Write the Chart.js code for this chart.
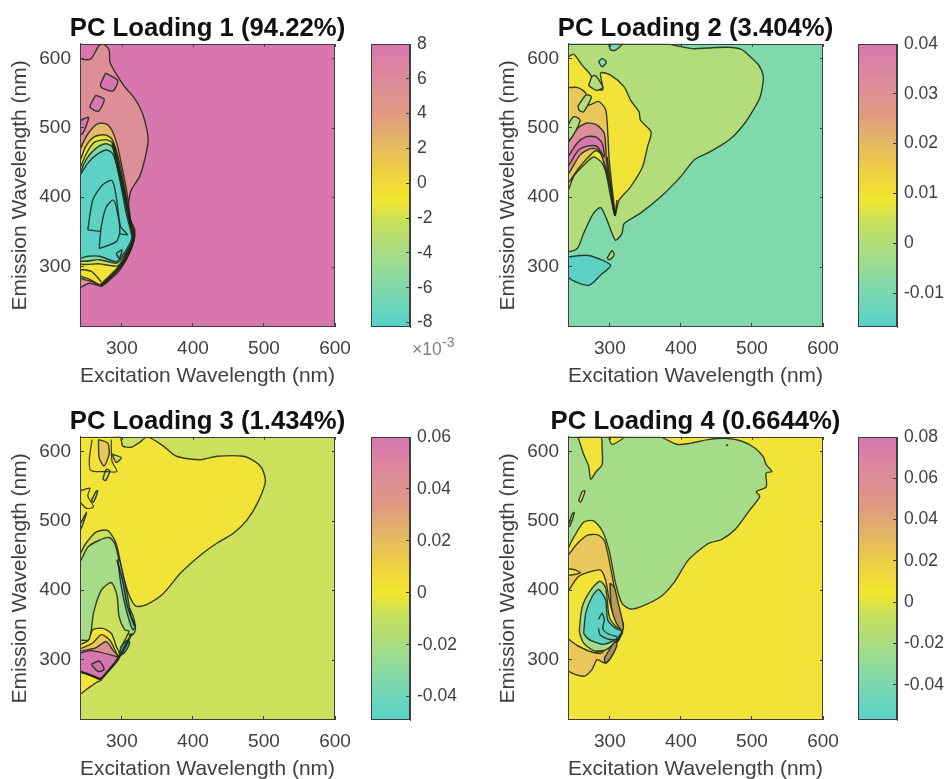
<!DOCTYPE html>
<html>
<head>
<meta charset="utf-8">
<title>PC Loadings</title>
<script src="https://cdn.jsdelivr.net/npm/chart.js@4"></script>
<style>
  html, body { margin: 0; padding: 0; background: #fff; width: 948px; height: 779px; overflow: hidden; }
  canvas { position: absolute; }
</style>
</head>
<body>
<script>
// axis ranges and ticks, nm
const xRange = [241, 600];
const yRange = [213, 621];
const xTicks = [300, 400, 500, 600];
const yTicks = [300, 400, 500, 600];
const fullBox = [[241, 213], [600, 213], [600, 621], [241, 621]];

// colour bars
const cbarRanges = [[-8.25, 8], [-0.0168, 0.04], [-0.049, 0.06], [-0.057, 0.08]];
const cbarTicks = [
  [8, 6, 4, 2, 0, -2, -4, -6, -8],
  [0.04, 0.03, 0.02, 0.01, 0, -0.01],
  [0.06, 0.04, 0.02, 0, -0.02, -0.04],
  [0.08, 0.06, 0.04, 0.02, 0, -0.02, -0.04]
];
const titles = ['PC Loading 1 (94.22%)', 'PC Loading 2 (3.404%)', 'PC Loading 3 (1.434%)', 'PC Loading 4 (0.6644%)'];

// colour map, top of the bar to the bottom
const mapStops = [0, 0.13, 0.25, 0.33, 0.45, 0.55, 0.63, 0.75, 0.87, 1];
const mapColors = ['#d877ae', '#de8b9a', '#e09a80', '#e2b268', '#eed042', '#f2e62e', '#c8e05c', '#a4dc88', '#7cd8ae', '#56d2c8'];

const PINK = '#d877ae', SALMON = '#dd8e96', ORANGE = '#e6b86a', AMBER = '#e9c75a', YELLOW = '#f1e338',
  LIME = '#cce05e', LEAF = '#b2dd7a', GREEN = '#a6dc88', MINT = '#80d9ad', TEAL = '#5cd2c4';
const INK = 'rgba(25,35,25,0.85)';

// panel 1 contours
const p1Salmon = [[240,600],[250,598],[257,600],[264,612],[268,619],[275,620],[282,612],[283,595],[290,581],[304,559],[316,545],[325,530],[332,511],[337,482],[332,454],[325,430],[313,410],[310,396],[308,377],[318,353],[316,338],[308,314],[297,295],[283,281],[271,272],[254,276],[240,271]];
const p1HoleA = [[277,579],[294,568],[287,553],[270,560]];
const p1HoleB = [[263,547],[275,541],[267,524],[255,530]];
const p1HoleC = [[242,511],[253,515],[245,492],[240,490]];
const p1Orange = [[240,466],[247,482],[254,494],[266,506],[279,505],[287,494],[294,473],[301,439],[308,401],[313,362],[318,348],[316,334],[308,314],[297,298],[283,283],[271,272],[259,278],[240,286]];
const p1Yellow = [[240,449],[249,473],[261,487],[275,490],[285,485],[292,468],[299,439],[306,401],[312,367],[317,348],[315,334],[306,312],[294,296],[280,281],[270,274],[254,282],[240,289]];
const p1Lime = [[240,439],[250,463],[261,479],[277,483],[286,479],[292,463],[300,425],[308,386],[313,353],[316,343],[312,331],[304,314],[294,301],[268,304],[240,306]];
const p1Mint = [[240,432],[250,455],[263,470],[277,477],[286,473],[292,458],[300,420],[307,382],[313,353],[315,343],[312,331],[302,314],[293,305],[268,310],[240,310]];
const p1Teal = [[240,430],[252,449],[264,461],[278,468],[286,464],[292,449],[299,415],[306,377],[312,353],[314,342],[310,331],[300,315],[292,307],[268,315],[252,315],[240,313]];
const p1InnerA = [[252,353],[259,396],[273,418],[286,424],[292,401],[298,358],[308,346],[299,347]];
const p1InnerB = [[268,326],[271,358],[278,386],[288,396],[294,377],[297,350],[292,336]];
const p1InnerC = [[292,319],[300,324],[296,312]];
const p1Low = [[240,296],[257,293],[271,278]];
const p1Edge = [[287,478],[292,454],[300,420],[308,382],[313,358],[317,346],[314,331],[305,312],[293,296],[279,282],[270,273]];

// panel 2 contours
const p2Green = [[241,621],[379,621],[400,617],[419,614],[438,615],[466,616],[485,613],[497,603],[509,591],[516,574],[514,555],[511,543],[502,526],[490,507],[473,487],[457,475],[438,464],[419,454],[400,430],[372,401],[343,377],[320,362],[317,348],[308,338],[301,353],[296,367],[287,385],[277,377],[263,348],[254,326],[241,323]];
const p2TopBit = [[298,622],[301,612],[308,612],[318,622]];
const p2Oval = [[284,595],[289,600],[295,595],[289,588]];
const p2Low = [[241,314],[270,316],[301,302],[287,288],[270,273],[241,285]];
const p2Seed = [[296,312],[303,323],[306,317],[300,310]];
const p2Yellow = [[241,602],[249,606],[261,590],[273,576],[281,557],[290,555],[287,579],[301,576],[320,559],[329,540],[341,523],[343,511],[358,494],[353,473],[346,444],[329,415],[313,396],[307,374],[299,420],[289,449],[277,458],[263,446],[249,430],[241,411]];
const p2Orange = [[241,558],[255,558],[266,550],[270,533],[284,538],[294,526],[297,492],[299,454],[303,415],[307,374],[301,401],[294,439],[289,461],[280,467],[268,456],[254,439],[241,422]];
const p2Salmon = [[241,478],[254,499],[268,507],[282,504],[292,492],[294,473],[296,444],[303,401],[307,377],[300,415],[292,449],[284,468],[273,470],[258,461],[241,434]];
const p2Pink = [[241,458],[254,478],[266,487],[280,487],[289,478],[292,458],[282,473],[270,474],[256,468],[241,445]];
const p2HoleA = [[270,561],[275,574],[280,575],[290,558],[281,554],[274,558]];
const p2HoleB = [[255,531],[266,547],[274,545],[263,523],[257,525]];
const p2HoleC = [[241,504],[249,516],[258,511],[247,487],[241,482]];
const p2Edge = [[296,458],[303,401],[307,374],[310,396]];

// panel 3 contours
const p3Yellow = [[240,450],[240,621],[297,621],[301,608],[313,606],[325,613],[336,621],[358,608],[377,593],[410,588],[434,593],[471,593],[488,585],[497,576],[502,557],[492,528],[476,501],[457,482],[434,468],[410,450],[382,424],[358,395],[334,379],[320,377],[311,391],[301,424],[292,467],[280,486],[264,484],[249,467]];
const p3OrangeOval = [[267,617],[280,612],[282,596],[275,579],[268,591]];
const p3Ring = [[258,617],[254,586],[257,572],[278,571],[293,571],[286,586],[285,617]];
const p3BitA = [[286,596],[299,591],[292,584]];
const p3BitB = [[273,560],[278,574],[283,572],[277,558]];
const p3BitC = [[257,529],[264,543],[266,543],[260,527]];
const p3BitD = [[240,493],[250,512],[250,510],[242,488]];
const p3Jag = [[241,543],[255,547],[252,536],[260,520],[250,518],[242,526]];
const p3Green = [[240,438],[252,462],[268,472],[282,476],[290,467],[297,438],[308,381],[316,362],[319,343],[314,335],[300,340],[240,328]];
const p3Pocket = [[240,328],[254,329],[260,367],[271,400],[285,411],[293,393],[296,362],[304,343],[310,341],[302,324],[296,305],[268,286],[240,283]];
const p3Bump = [[240,321],[253,328],[259,343],[273,345],[285,338],[292,319],[297,305],[268,286],[240,283]];
const p3Orange = [[240,315],[259,324],[271,336],[283,328],[292,310],[294,303],[268,284],[240,283]];
const p3Salmon = [[240,312],[263,317],[278,326],[287,314],[294,304],[268,280],[240,283]];
const p3Pink = [[240,309],[257,313],[287,306],[296,302],[285,288],[268,272],[240,285]];
const p3PinkCore = [[257,293],[268,298],[275,286],[266,283]];
const p3Corner = [[240,283],[271,271],[264,267],[250,257],[240,250]];
const p3Streak = [[294,444],[297,443],[308,391],[313,362],[319,348],[315,343],[306,372],[299,406]];
const p3Dark = [[296,305],[299,319],[308,328],[311,324],[304,310]];
const p3EdgeA = [[293,444],[301,414],[308,376],[318,348]];
const p3EdgeB = [[314,338],[302,314],[290,295],[271,272]];
const p3EdgeC = [[240,283],[255,278],[271,271]];

// panel 4 contours
const p4Green = [[241,460],[241,621],[369,621],[395,610],[414,612],[438,617],[462,619],[485,615],[504,605],[516,592],[520,581],[528,571],[520,569],[520,549],[506,542],[511,535],[495,513],[476,487],[457,473],[438,467],[410,443],[391,412],[372,391],[343,376],[329,373],[317,381],[308,410],[299,457],[289,486],[277,500],[263,498],[249,476]];
const p4IslandA = [[255,621],[263,596],[270,579],[273,560],[280,570],[289,581],[289,605],[287,621]];
const p4IslandB = [[298,621],[303,610],[320,621]];
const p4HoleA = [[256,529],[261,542],[265,543],[259,527]];
const p4HoleB = [[241,491],[247,510],[250,512],[244,493]];
const p4Dot = [[464,608],[466,610]];
const p4Orange = [[241,450],[254,467],[268,479],[282,480],[292,472],[299,443],[306,405],[313,367],[319,350],[316,338],[310,325],[241,330]];
const p4Nick = [[241,431],[252,429],[258,425],[241,422]];
const p4Inner = [[241,398],[255,419],[270,426],[287,429],[294,414],[299,386],[306,362],[313,348],[318,340],[310,326],[294,315],[277,310],[256,319],[241,330]];
const p4Low = [[241,330],[256,319],[277,310],[289,310],[301,324],[308,324],[303,307],[294,295],[282,300],[275,286],[263,276],[241,285]];
const p4Leaf = [[257,343],[261,376],[273,400],[286,413],[294,403],[299,362],[308,348],[317,342],[310,328],[294,314],[277,313],[263,324],[258,336]];
const p4Teal = [[263,338],[266,367],[275,391],[284,401],[294,386],[297,357],[308,345],[317,341],[308,329],[291,322],[277,326],[268,331]];
const p4InnerA = [[284,358],[289,367],[292,357],[290,345],[296,338],[310,333]];
const p4InnerB = [[284,345],[286,336],[300,329],[310,329]];
const p4StreakA = [[300,410],[306,405],[313,376],[319,348],[317,341],[308,355],[302,376]];
const p4StreakB = [[292,302],[307,326],[310,321],[301,302],[294,295]];

// drawing order per panel, background first
const panelLayers = [
  [
    [fullBox, PINK, 0], [p1Salmon, SALMON], [p1HoleA, PINK], [p1HoleB, PINK], [p1HoleC, PINK],
    [p1Orange, ORANGE], [p1Yellow, YELLOW], [p1Lime, LIME], [p1Mint, MINT], [p1Teal, TEAL],
    [p1InnerA, TEAL], [p1InnerB, TEAL], [p1InnerC, TEAL]
  ],
  [
    [fullBox, MINT, 0], [p2Green, LEAF], [p2TopBit, MINT], [p2Oval, MINT], [p2Low, TEAL], [p2Seed, LEAF],
    [p2Yellow, YELLOW], [p2Orange, AMBER], [p2Salmon, SALMON], [p2Pink, PINK],
    [p2HoleA, LEAF], [p2HoleB, LEAF], [p2HoleC, LEAF]
  ],
  [
    [fullBox, LIME, 0], [p3Yellow, YELLOW], [p3OrangeOval, AMBER], [p3BitA, LIME], [p3BitB, LIME], [p3BitC, LIME], [p3BitD, LIME],
    [p3Green, GREEN], [p3Pocket, LIME], [p3Bump, YELLOW], [p3Orange, AMBER], [p3Salmon, SALMON], [p3Pink, PINK],
    [p3PinkCore, '#cf6fb0'], [p3Corner, YELLOW], [p3Streak, '#6fbe9c'], [p3Dark, '#4f9a88']
  ],
  [
    [fullBox, YELLOW, 0], [p4Green, GREEN], [p4IslandA, YELLOW], [p4IslandB, YELLOW], [p4HoleA, YELLOW], [p4HoleB, YELLOW],
    [p4Orange, AMBER], [p4Nick, YELLOW], [p4Inner, YELLOW], [p4Low, AMBER], [p4Leaf, GREEN], [p4Teal, TEAL],
    [p4StreakA, '#b89a5c'], [p4StreakB, '#a88a70']
  ]
];
// open contour lines drawn over the fills
const panelLines = [
  [[p1Low, 1.4], [p1Edge, 2.8]],
  [[p2Edge, 1.6]],
  [[p3Ring, 1.2], [p3Jag, 1.2], [p3EdgeA, 1.6], [p3EdgeB, 2.4], [p3EdgeC, 2.4]],
  [[p4InnerA, 1.4], [p4InnerB, 1.4], [p4Dot, 1.8]]
];

const AXIS_COLOR = '#3e3e3e';
const TEXT_COLOR = '#404040';
const FONT = '"Liberation Sans", Arial, sans-serif';
const CURVE = 0.25;
const CONTOUR_WIDTH = 1.4;

// box round the plot, with mirrored ticks on the far sides
const framePlugin = {
  id: 'frame',
  afterDatasetsDraw(chart) {
    const { ctx, chartArea: a, scales } = chart;
    ctx.save();
    ctx.strokeStyle = AXIS_COLOR;
    ctx.lineWidth = 1;
    ctx.strokeRect(Math.round(a.left) + 0.5, Math.round(a.top) + 0.5, Math.round(a.right - a.left) - 1, Math.round(a.bottom - a.top) - 1);
    if (scales.x && scales.x.options.display) {
      ctx.beginPath();
      scales.x.ticks.forEach(t => {
        const px = Math.round(scales.x.getPixelForValue(t.value)) + 0.5;
        ctx.moveTo(px, a.top);
        ctx.lineTo(px, a.top + 3);
      });
      scales.y.ticks.forEach(t => {
        const py = Math.round(scales.y.getPixelForValue(t.value)) + 0.5;
        ctx.moveTo(a.right, py);
        ctx.lineTo(a.right - 3, py);
      });
      ctx.stroke();
    }
    ctx.restore();
  }
};

// the x10^-3 note under the first colour bar
const exponentPlugin = {
  id: 'exponent',
  afterDraw(chart) {
    const { ctx, chartArea: a } = chart;
    ctx.save();
    ctx.fillStyle = '#808080';
    ctx.textBaseline = 'middle';
    ctx.font = '17.5px ' + FONT;
    ctx.fillText('×10', a.left + 41, a.bottom + 23);
    ctx.font = '14px ' + FONT;
    ctx.fillText('-3', a.left + 71, a.bottom + 16);
    ctx.restore();
  }
};

function addCanvas(left, top, width, height) {
  const c = document.createElement('canvas');
  c.width = width;
  c.height = height;
  c.style.left = left + 'px';
  c.style.top = top + 'px';
  document.body.appendChild(c);
  return c;
}

function toPoints(list) {
  return list.map(p => ({ x: p[0], y: p[1] }));
}

function fillLayer(layer) {
  const pts = toPoints(layer[0]);
  pts.push(pts[0]);
  const width = layer[2] === undefined ? CONTOUR_WIDTH : layer[2];
  return {
    data: pts,
    showLine: true,
    fill: 'shape',
    tension: width ? CURVE : 0,
    backgroundColor: layer[1],
    borderColor: width ? INK : layer[1],
    borderWidth: width,
    pointRadius: 0
  };
}

function lineLayer(line) {
  return {
    data: toPoints(line[0]),
    showLine: true,
    fill: false,
    tension: CURVE,
    borderColor: INK,
    borderWidth: line[1],
    pointRadius: 0
  };
}

function drawPanel(i, left, top) {
  // later entries go on top, chart.js paints dataset 0 last
  const sets = panelLayers[i].map(fillLayer).concat(panelLines[i].map(lineLayer)).reverse();
  new Chart(addCanvas(left, top, 415, 386), {
    type: 'scatter',
    data: { datasets: sets },
    plugins: [framePlugin],
    options: {
      responsive: false,
      animation: false,
      plugins: {
        legend: { display: false },
        tooltip: { enabled: false },
        title: {
          display: true,
          text: titles[i],
          color: '#111',
          font: { family: FONT, size: 25.7, weight: 'bold' },
          padding: { top: 13, bottom: 0 }
        }
      },
      scales: {
        x: {
          type: 'linear',
          min: xRange[0],
          max: xRange[1],
          afterBuildTicks: s => { s.ticks = xTicks.map(v => ({ value: v })); },
          afterFit: s => { s.height = 59; },
          grid: { drawOnChartArea: false, tickLength: -4, color: AXIS_COLOR, z: 1 },
          border: { color: AXIS_COLOR, z: 1 },
          ticks: { color: TEXT_COLOR, font: { family: FONT, size: 19 }, padding: 14, maxRotation: 0 },
          title: {
            display: true,
            text: 'Excitation Wavelength (nm)',
            color: TEXT_COLOR,
            font: { family: FONT, size: 21 },
            padding: { top: 0, bottom: -3 }
          }
        },
        y: {
          type: 'linear',
          min: yRange[0],
          max: yRange[1],
          afterBuildTicks: s => { s.ticks = yTicks.map(v => ({ value: v })); },
          afterFit: s => { s.width = 80; },
          grid: { drawOnChartArea: false, tickLength: -4, color: AXIS_COLOR, z: 1 },
          border: { color: AXIS_COLOR, z: 1 },
          ticks: { color: TEXT_COLOR, font: { family: FONT, size: 19 }, padding: 13 },
          title: {
            display: true,
            text: 'Emission Wavelength (nm)',
            color: TEXT_COLOR,
            font: { family: FONT, size: 21 },
            padding: { top: 8, bottom: 0 }
          }
        },
        // empty axis, keeps the title centred over the plot
        spacer: {
          type: 'linear',
          position: 'right',
          afterFit: s => { s.width = 80; },
          grid: { display: false },
          border: { display: false },
          ticks: { display: false }
        }
      }
    }
  });
}

function drawColorbar(i, left, top, width) {
  const plugins = [framePlugin];
  if (i === 0) plugins.push(exponentPlugin);
  new Chart(addCanvas(left, top, width, 386), {
    type: 'bar',
    data: {
      labels: [''],
      datasets: [{
        data: [cbarRanges[i]],
        barPercentage: 1,
        categoryPercentage: 1,
        backgroundColor(c) {
          const area = c.chart.chartArea;
          if (!area) return mapColors[0];
          const g = c.chart.ctx.createLinearGradient(0, area.top, 0, area.bottom);
          mapStops.forEach((s, k) => g.addColorStop(s, mapColors[k]));
          return g;
        }
      }]
    },
    plugins,
    options: {
      responsive: false,
      animation: false,
      layout: { padding: { top: 44, bottom: 59 } },
      plugins: { legend: { display: false }, tooltip: { enabled: false } },
      scales: {
        x: { display: false },
        y: {
          position: 'right',
          min: cbarRanges[i][0],
          max: cbarRanges[i][1],
          afterBuildTicks: s => { s.ticks = cbarTicks[i].map(v => ({ value: v })); },
          afterFit: s => { s.width = width - 39; },
          grid: { drawOnChartArea: false, tickLength: -4, color: AXIS_COLOR, z: 1 },
          border: { color: AXIS_COLOR, z: 1 },
          ticks: {
            color: TEXT_COLOR,
            font: { family: FONT, size: 17.5 },
            padding: 11,
            callback: v => String(v)
          }
        }
      }
    }
  });
}

drawPanel(0, 0, 0);
drawPanel(1, 488, 0);
drawPanel(2, 0, 393);
drawPanel(3, 488, 393);
drawColorbar(0, 371, 0, 90);
drawColorbar(1, 858, 0, 90);
drawColorbar(2, 371, 393, 90);
drawColorbar(3, 858, 393, 90);
</script>
</body>
</html>
